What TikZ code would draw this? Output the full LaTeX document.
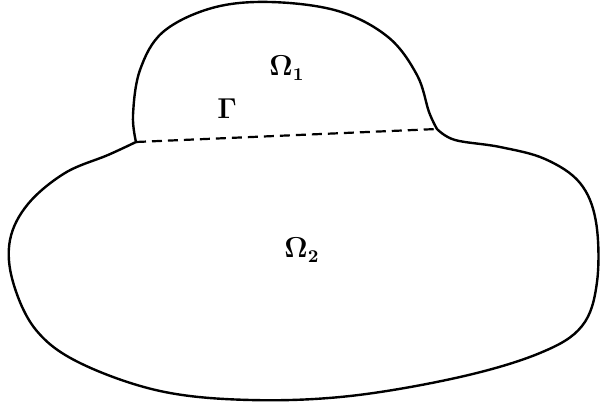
\documentclass[tikz,border=0pt]{standalone}
\usepackage{amsmath}
\begin{document}
\begin{tikzpicture}[x=0.5pt,y=-0.5pt,
  outline/.style={line width=1.2pt,line join=round,line cap=round},
  iface/.style={line width=1.1pt,dash pattern=on 5pt off 3pt},
  lab/.style={font=\fontsize{13.5}{15}\selectfont\boldmath,inner sep=0pt}]
\useasboundingbox (0,0) rectangle (600,406);
\coordinate (jl) at (136,142);
\coordinate (jr) at (437,129);
\draw[outline] plot[smooth,tension=0.6] coordinates{
 (136,142) (133,115) (140,70) (163,32) (212,8) (270,2) (338,11)
 (388,37) (417,75) (429,112) (437,129)};
\draw[outline] plot[smooth,tension=0.6] coordinates{
 (437,129) (455,140) (500,147) (545,159) (580,183) (596,222)
 (597,282) (582,326) (540,353) (460,377) (350,396) (250,400)
 (160,391) (80,363) (36,330) (13,282) (10,240) (28,204) (65,173)
 (108,155) (136,142)};
\draw[iface] (jl) -- (jr);
\node[lab] (o1) at (287,68) {$\Omega_1$};
\node[lab] (g) at (227,109) {$\Gamma$};
\node[lab] (o2) at (302,250) {$\Omega_2$};
\end{tikzpicture}
\end{document}
